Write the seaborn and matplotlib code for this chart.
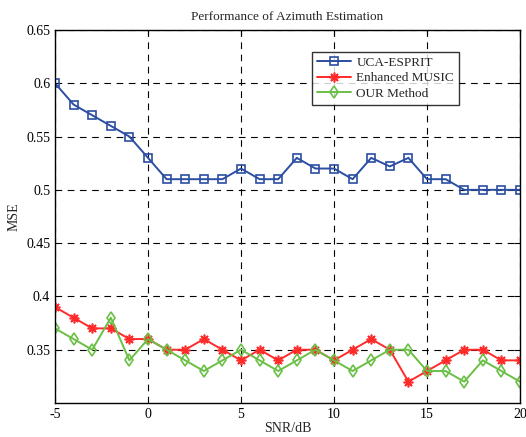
import matplotlib
matplotlib.use("Agg")
import matplotlib.pyplot as plt
import numpy as np
import pandas as pd
import seaborn as sns

snr = list(range(-5, 21))
uca_esprit = [0.60, 0.58, 0.57, 0.56, 0.55, 0.53, 0.51, 0.51, 0.51, 0.51, 0.52, 0.51, 0.51,
              0.53, 0.52, 0.52, 0.51, 0.53, 0.522, 0.53, 0.51, 0.51, 0.50, 0.50, 0.50, 0.50]
enhanced_music = [0.39, 0.38, 0.37, 0.37, 0.36, 0.36, 0.35, 0.35, 0.36, 0.35, 0.34, 0.35, 0.34,
                  0.35, 0.35, 0.34, 0.35, 0.36, 0.35, 0.32, 0.33, 0.34, 0.35, 0.35, 0.34, 0.34]
our_method = [0.37, 0.36, 0.35, 0.38, 0.34, 0.36, 0.35, 0.34, 0.33, 0.34, 0.35, 0.34, 0.33,
              0.34, 0.35, 0.34, 0.33, 0.34, 0.35, 0.35, 0.33, 0.33, 0.32, 0.34, 0.33, 0.32]

yticks = [0.35, 0.4, 0.45, 0.5, 0.55, 0.6, 0.65]
ytick_labels = ["0.35", "0.4", "0.45", "0.5", "0.55", "0.6", "0.65"]
xticks = [-5, 0, 5, 10, 15, 20]

df = pd.DataFrame({"snr": snr, "UCA-ESPRIT": uca_esprit,
                   "Enhanced MUSIC": enhanced_music, "OUR Method": our_method})

sns.set_style("white")
plt.rcParams["font.family"] = ["Liberation Serif", "DejaVu Serif"]
plt.rcParams["axes.unicode_minus"] = False

fig = plt.figure(figsize=(5.26, 4.37), dpi=100)
ax = fig.add_axes([0.1046, 0.0778, 0.8840, 0.8536])

styles = {
    "UCA-ESPRIT": dict(color="#2b4ea3", marker="s", ms=5.5),
    "Enhanced MUSIC": dict(color="#ff2a2a", marker=(8, 2, 0), ms=7),
    "OUR Method": dict(color="#6abf45", marker="d", ms=6.5),
}
for name, st in styles.items():
    sns.lineplot(data=df, x="snr", y=name, ax=ax, label=name, color=st["color"],
                 marker=st["marker"], markersize=st["ms"], markerfacecolor="none",
                 markeredgecolor=st["color"], markeredgewidth=1.2, linewidth=1.4)

ax.set_xlim(-5, 20)
ax.set_ylim(0.3, 0.65)
ax.set_xticks(xticks)
ax.set_yticks(yticks)
ax.set_yticklabels(ytick_labels)
ax.grid(True, color="black", linestyle=(0, (6, 5)), linewidth=0.8)
for sp in ax.spines.values():
    sp.set_color("black")
    sp.set_linewidth(1.0)
ax.tick_params(direction="in", top=True, right=True, length=4, labelsize=10, colors="black")

ax.set_title("Performance of Azimuth Estimation", fontsize=9.5, pad=7)
ax.set_xlabel("SNR/dB", fontsize=10, labelpad=1)
ax.set_ylabel("MSE", fontsize=10, labelpad=4)

leg = ax.legend(loc="upper left", bbox_to_anchor=(0.553, 0.941), fontsize=9.5,
                frameon=True, fancybox=False, borderpad=0.35, labelspacing=0.25,
                handlelength=2.6, handletextpad=0.4, borderaxespad=0)
leg.get_frame().set_edgecolor("black")
leg.get_frame().set_linewidth(1.0)

fig.savefig("out.png", dpi=100)
